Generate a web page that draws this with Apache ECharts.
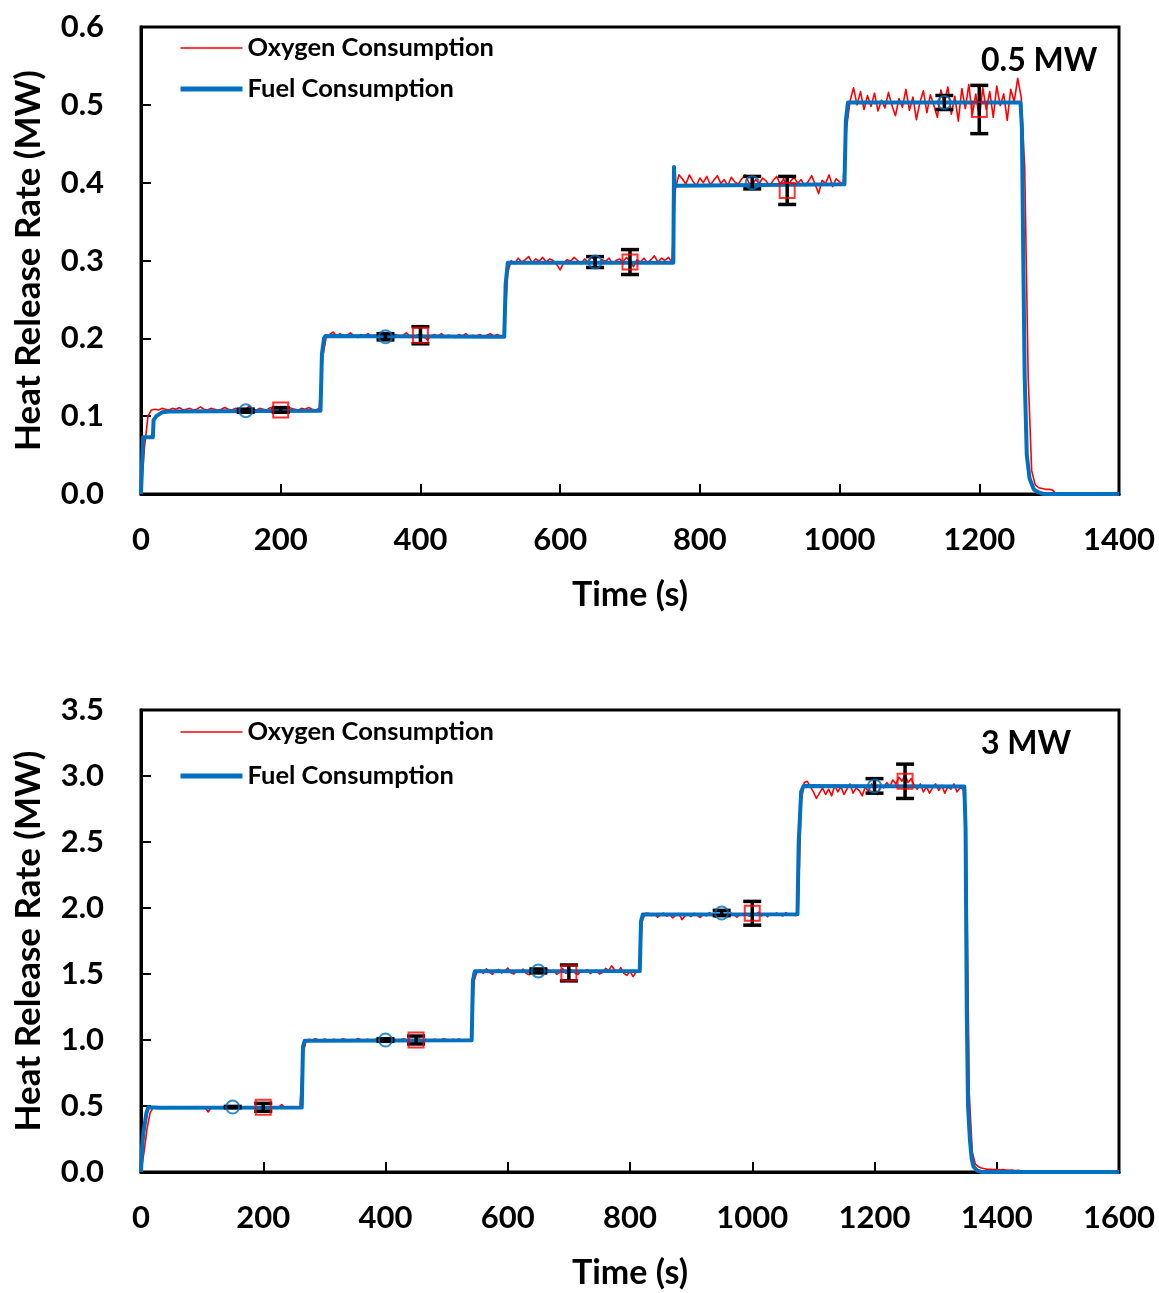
<!DOCTYPE html>
<html>
<head>
<meta charset="utf-8">
<script src="https://cdn.jsdelivr.net/npm/echarts@6/dist/echarts.min.js"></script>
<style>
  html, body { margin: 0; padding: 0; background: #fff; }
  #chart { width: 1159px; height: 1293px; }
</style>
</head>
<body>
<div id="chart"></div>
<script>
// Heat release rate step tests: oxygen consumption calorimetry vs. fuel metering

// Oxygen-consumption HRR, logged every 5 s (MW)
const O2_DT = 5;
const o2Top = [
  0, 0.06, 0.1, 0.108,
  0.109,0.108,0.110,0.109,0.108,0.110,0.109,0.111,0.108,0.109,
  0.110,0.108,0.109,0.112,0.109,0.108,0.110,0.109,0.108,0.109,
  0.111,0.109,0.108,0.110,0.109,0.108,0.109,0.113,0.109,0.108,
  0.110,0.109,0.108,0.111,0.109,0.110,0.108,0.109,0.112,0.110,
  0.109,0.108,0.110,0.109,0.111,0.109,0.108,0.110,
  0.175, 0.201,
  0.205,0.208,0.203,0.206,0.202,0.204,0.207,0.203,0.201,0.205,
  0.203,0.206,0.202,0.204,0.203,0.199,0.204,0.206,0.203,0.205,
  0.202,0.204,0.207,0.203,0.201,0.204,0.206,0.202,0.198,0.203,
  0.205,0.203,0.206,0.202,0.204,0.203,0.201,0.205,0.203,0.206,
  0.202,0.204,0.203,0.205,0.202,0.204,0.206,0.203,0.205,0.203,
  0.204, 0.285,
  0.300,0.296,0.303,0.298,0.301,0.305,0.297,0.302,0.299,0.304,
  0.298,0.302,0.300,0.295,0.288,0.297,0.301,0.299,0.304,0.300,
  0.296,0.302,0.298,0.305,0.300,0.297,0.301,0.299,0.303,0.296,
  0.300,0.302,0.298,0.304,0.299,0.292,0.301,0.298,0.303,0.297,
  0.301,0.306,0.298,0.303,0.300,0.304,
  0.298, 0.392, 0.410,
  0.405,0.398,0.410,0.402,0.396,0.406,0.400,0.408,0.397,0.403,
  0.409,0.399,0.404,0.396,0.407,0.401,0.398,0.405,0.410,0.400,
  0.397,0.404,0.399,0.406,0.402,0.396,0.403,0.408,0.398,0.405,
  0.393,0.402,0.407,0.399,0.404,0.396,0.401,0.409,0.398,0.386,
  0.403,0.399,0.410,0.395,0.405,0.401,
  0.398, 0.470, 0.505,
  0.522,0.500,0.517,0.494,0.512,0.498,0.515,0.492,0.506,0.496,
  0.516,0.499,0.486,0.508,0.497,0.520,0.493,0.510,0.481,0.503,
  0.518,0.490,0.513,0.499,0.484,0.519,0.502,0.523,0.488,0.511,
  0.479,0.521,0.495,0.526,0.487,0.514,0.482,0.522,0.494,0.517,
  0.484,0.524,0.499,0.514,0.480,0.520,0.504,0.534,
  0.510, 0.420, 0.150, 0.030, 0.012, 0.008, 0.007, 0.006, 0.006, 0.005, 0
];

const o2Bottom = [
  0, 0.15, 0.33, 0.45,
  0.488,0.490,0.487,0.489,0.491,0.488,0.490,0.486,0.489,0.490,
  0.488,0.491,0.487,0.489,0.490,0.488,0.489,0.487,0.455,0.489,
  0.490,0.488,0.491,0.489,0.487,0.490,0.488,0.489,0.491,0.487,
  0.490,0.488,0.489,0.490,0.487,0.491,0.489,0.488,0.490,0.489,
  0.487,0.490,0.510,0.489,0.488,0.490,0.489,0.488,
  0.492, 0.900, 0.990,
  1.005,0.998,1.010,1.002,0.995,1.008,1.000,0.993,1.006,1.001,
  0.997,1.009,1.003,0.996,1.004,0.999,1.011,1.002,0.994,1.006,
  1.000,0.997,1.008,1.003,0.995,1.001,1.007,0.998,1.004,0.992,
  1.003,1.009,0.999,1.005,0.996,1.002,1.008,0.997,1.004,1.000,
  0.994,1.006,1.001,0.998,1.010,1.003,0.996,1.005,0.999,1.007,
  1.002,0.997,1.004,
  1.000, 1.450, 1.520,
  1.530,1.505,1.540,1.512,1.498,1.525,1.535,1.508,1.520,1.545,
  1.510,1.500,1.528,1.515,1.538,1.505,1.495,1.522,1.532,1.510,
  1.518,1.502,1.536,1.514,1.526,1.498,1.512,1.540,1.506,1.520,
  1.530,1.508,1.496,1.524,1.515,1.534,1.503,1.519,1.528,1.500,
  1.511,1.542,1.525,1.562,1.530,1.512,1.548,1.505,1.490,1.522,
  1.480,1.515,
  1.530, 1.900, 1.960,
  1.960,1.942,1.955,1.930,1.948,1.962,1.938,1.950,1.925,1.945,
  1.958,1.912,1.940,1.952,1.935,1.960,1.944,1.928,1.955,1.940,
  1.965,1.946,1.932,1.958,1.942,1.950,1.936,1.962,1.948,1.930,
  1.955,1.944,1.960,1.938,1.952,1.946,1.968,1.940,1.955,1.934,
  1.958,1.945,1.962,1.950,1.940,1.965,1.948,1.956,1.942,
  1.950, 2.800, 2.950,
  2.960,2.920,2.880,2.830,2.870,2.910,2.860,2.900,2.850,2.930,
  2.880,2.920,2.860,2.900,2.940,2.870,2.910,2.890,2.850,2.920,
  2.880,2.940,2.900,2.860,2.930,2.910,2.950,2.920,2.970,2.940,
  2.990,2.960,3.010,2.950,2.980,2.930,2.900,2.940,2.880,2.920,
  2.870,2.910,2.940,2.890,2.930,2.870,2.920,2.900,2.940,2.880,
  2.910,
  2.900, 2.600, 0.600, 0.150, 0.060,
  0.040,0.030,0.025,0.020,0.020,0.018,0.020,0.015,0.018,0.015,
  0.012,0.015,0.010,0.012,0.010,
  0.008, 0
];

// Fuel-consumption HRR, [time s, MW]
const fuelTop = [
  [0,0],[2,0.05],[3,0.073],[17,0.073],[18,0.095],[22,0.1],[30,0.105],[40,0.106],
  [257,0.107],[259,0.18],[262,0.2],[264,0.203],[520,0.202],[522,0.27],[525,0.297],
  [762,0.297],[763,0.42],[764,0.396],[766,0.398],[1007,0.398],[1009,0.48],[1012,0.503],
  [1259,0.503],[1261,0.47],[1263,0.3],[1265,0.15],[1268,0.05],[1272,0.02],[1278,0.006],
  [1285,0.002],[1292,0],[1400,0]
];
const fuelBottom = [
  [0,0],[2,0.2],[4,0.3],[6,0.36],[9,0.45],[12,0.49],[30,0.487],[263,0.488],
  [265,0.95],[268,0.995],[541,0.998],[543,1.45],[546,1.52],[816,1.522],[818,1.9],
  [821,1.95],[1074,1.952],[1076,2.5],[1080,2.88],[1084,2.925],[1347,2.92],[1349,2.6],
  [1351,1.2],[1353,0.5],[1356,0.25],[1359,0.1],[1362,0.04],[1368,0.01],[1375,0],[1600,0]
];

// Steady-state averages: [time s, mean MW, ± MW]
const fuelMeanTop = [[150,0.107,0.002],[350,0.202,0.004],[650,0.298,0.007],[875,0.400,0.008],[1150,0.503,0.009]];
const o2MeanTop   = [[200,0.108,0.003],[400,0.204,0.011],[700,0.298,0.016],[925,0.390,0.018],[1200,0.494,0.031]];
const fuelMeanBottom = [[150,0.492,0.005],[400,1.000,0.010],[650,1.523,0.015],[950,1.962,0.020],[1200,2.925,0.055]];
const o2MeanBottom   = [[200,0.490,0.030],[450,1.000,0.030],[700,1.508,0.060],[1000,1.960,0.090],[1250,2.960,0.130]];

const xTicksTop = { min: 0, max: 1400, step: 200 };
const xTicksBottom = { min: 0, max: 1600, step: 200 };
const yTicksTop = { min: 0, max: 0.6, step: 0.1 };
const yTicksBottom = { min: 0, max: 3.5, step: 0.5 };

const panelLabels = ['0.5 MW', '3 MW'];
const seriesNames = ['Oxygen Consumption', 'Fuel Consumption'];

const FONT = 'Lato';
const RED = '#ff0000';
const BLUE = '#0070c0';
const RED_WIDTH = 1.6;
const BLUE_WIDTH = 4;

const chart = echarts.init(document.getElementById('chart'), null, { renderer: 'canvas' });

function xAxisCfg(t, gi) {
  return {
    type: 'value', gridIndex: gi, min: t.min, max: t.max, interval: t.step,
    name: 'Time (s)', nameLocation: 'middle', nameGap: 84,
    nameTextStyle: { fontFamily: FONT, fontWeight: 'bold', fontSize: 34, color: '#000' },
    axisLine: { show: true, lineStyle: { color: '#000', width: 3 } },
    axisTick: { show: true, inside: true, length: 10, lineStyle: { color: '#000', width: 2 } },
    axisLabel: {
      margin: 30, fontFamily: FONT, fontWeight: 'bold', fontSize: 31, color: '#000',
      formatter: v => String(v)
    },
    splitLine: { show: false }
  };
}
function yAxisCfg(t, gi) {
  return {
    type: 'value', gridIndex: gi, min: t.min, max: t.max, interval: t.step,
    name: 'Heat Release Rate (MW)', nameLocation: 'middle', nameGap: 95,
    nameTextStyle: { fontFamily: FONT, fontWeight: 'bold', fontSize: 35, color: '#000' },
    axisLine: { show: true, lineStyle: { color: '#000', width: 3 } },
    axisTick: { show: true, inside: true, length: 10, lineStyle: { color: '#000', width: 2 } },
    axisLabel: {
      margin: 37, fontFamily: FONT, fontWeight: 'bold', fontSize: 31, color: '#000',
      formatter: v => v.toFixed(1)
    },
    splitLine: { show: false }
  };
}

function lineSeries(name, data, color, width, gi, z) {
  return {
    name, type: 'line', xAxisIndex: gi, yAxisIndex: gi, data,
    symbol: 'none', showSymbol: false, animation: false, z,
    lineStyle: { color, width, join: 'round' }, itemStyle: { color }
  };
}

function errorBars(stats, gi) {
  return {
    type: 'custom', xAxisIndex: gi, yAxisIndex: gi, animation: false, z: 4,
    data: stats.map(d => [d[0], d[1] - d[2], d[1] + d[2]]),
    encode: { x: 0, y: [1, 2] },
    renderItem: (params, api) => {
      const lo = api.coord([api.value(0), api.value(1)]);
      const hi = api.coord([api.value(0), api.value(2)]);
      const half = 9;
      const style = { stroke: '#000', lineWidth: 3.5, fill: null };
      return {
        type: 'group',
        children: [
          { type: 'line', shape: { x1: lo[0], y1: lo[1], x2: hi[0], y2: hi[1] }, style },
          { type: 'line', shape: { x1: hi[0] - half, y1: hi[1], x2: hi[0] + half, y2: hi[1] }, style },
          { type: 'line', shape: { x1: lo[0] - half, y1: lo[1], x2: lo[0] + half, y2: lo[1] }, style }
        ]
      };
    }
  };
}

function markers(stats, symbol, size, color, gi) {
  return {
    type: 'scatter', xAxisIndex: gi, yAxisIndex: gi, animation: false, z: 5,
    symbol, symbolSize: size,
    data: stats.map(d => [d[0], d[1]]),
    itemStyle: { color: 'rgba(0,0,0,0)', borderColor: color, borderWidth: 2 },
    emphasis: { disabled: true }
  };
}

function legendCfg(top, gap) {
  return {
    data: [
      { name: seriesNames[0], lineStyle: { color: RED, width: RED_WIDTH } },
      { name: seriesNames[1], lineStyle: { color: BLUE, width: BLUE_WIDTH + 1 } }
    ],
    orient: 'vertical', left: 173, top, itemGap: gap,
    itemWidth: 62, itemHeight: 14, selectedMode: false,
    itemStyle: { opacity: 0, color: 'rgba(0,0,0,0)', borderWidth: 0 },
    textStyle: { fontFamily: FONT, fontWeight: 'bold', fontSize: 25.5, color: '#000', lineHeight: 30 }
  };
}

const o2TopData = o2Top.map((v, i) => [i * O2_DT, v]);
const o2BottomData = o2Bottom.map((v, i) => [i * O2_DT, v]);

const panelTextStyle = { fontFamily: FONT, fontWeight: 'bold', fontSize: 32, color: '#000' };

chart.setOption({
  backgroundColor: '#fff',
  animation: false,
  grid: [
    { left: 141, top: 27, width: 978, height: 467, show: true, borderColor: '#000', borderWidth: 3, containLabel: false },
    { left: 141, top: 710, width: 978, height: 462, show: true, borderColor: '#000', borderWidth: 3, containLabel: false }
  ],
  title: [
    { text: panelLabels[0], left: 976, top: 40, textStyle: panelTextStyle },
    { text: panelLabels[1], left: 976, top: 723, textStyle: panelTextStyle }
  ],
  legend: [legendCfg(28, 11), legendCfg(712, 14)],
  xAxis: [xAxisCfg(xTicksTop, 0), xAxisCfg(xTicksBottom, 1)],
  yAxis: [yAxisCfg(yTicksTop, 0), yAxisCfg(yTicksBottom, 1)],
  series: [
    lineSeries(seriesNames[0], o2TopData, RED, RED_WIDTH, 0, 2),
    lineSeries(seriesNames[1], fuelTop, BLUE, BLUE_WIDTH, 0, 3),
    errorBars(fuelMeanTop, 0),
    errorBars(o2MeanTop, 0),
    markers(fuelMeanTop, 'circle', 13, BLUE, 0),
    markers(o2MeanTop, 'rect', 15, RED, 0),
    lineSeries(seriesNames[0], o2BottomData, RED, RED_WIDTH, 1, 2),
    lineSeries(seriesNames[1], fuelBottom, BLUE, BLUE_WIDTH, 1, 3),
    errorBars(fuelMeanBottom, 1),
    errorBars(o2MeanBottom, 1),
    markers(fuelMeanBottom, 'circle', 13, BLUE, 1),
    markers(o2MeanBottom, 'rect', 15, RED, 1)
  ]
});
</script>
</body>
</html>
